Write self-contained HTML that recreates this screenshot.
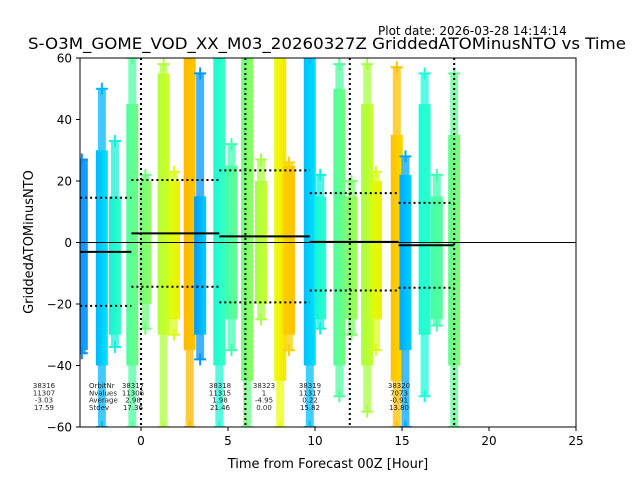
<!DOCTYPE html>
<html><head><meta charset="utf-8"><style>
body{margin:0;background:#fff;width:640px;height:480px;overflow:hidden;font-family:"Liberation Sans","DejaVu Sans",sans-serif}
svg text{font-family:"DejaVu Sans","Liberation Sans",sans-serif}
</style></head><body>
<svg id="chart" width="640" height="480" xmlns="http://www.w3.org/2000/svg">
<text x="378" y="35" font-size="12">Plot date: 2026-03-28 14:14:14</text>
<text x="327" y="49" font-size="16" text-anchor="middle" textLength="598" lengthAdjust="spacingAndGlyphs">S-O3M_GOME_VOD_XX_M03_20260327Z GriddedATOMinusNTO vs Time</text>
<defs><clipPath id="pc"><rect x="80" y="58" width="496" height="369"/></clipPath></defs>
<g id="marks" clip-path="url(#pc)"></g>
<g id="lines" clip-path="url(#pc)"></g>
<rect x="80" y="58" width="496" height="369" fill="none" stroke="#000" stroke-width="1"/>
<g id="axes"></g>
<g id="notes"></g>
<text x="328" y="468" font-size="13" text-anchor="middle">Time from Forecast 00Z [Hour]</text>
<text transform="translate(33,242) rotate(-90)" font-size="13" text-anchor="middle">GriddedATOMinusNTO</text>
</svg>
<script>
// column data (hours, values)
const colHours=[-3.4,-2.25,-1.5,-0.5,0.25,1.3,1.9,2.8,3.4,4.5,5.2,6.1,6.9,8.0,8.5,9.7,10.3,11.4,12.1,13.0,13.5,14.7,15.2,16.3,17.0,18.0];
const denseTop=[27,30,15,45,20,55,20,60,15,60,25,60,20,60,25,60,15,50,15,45,20,35,22,45,15,35];
const denseBot=[-35,-40,-30,-40,-20,-30,-25,-35,-30,-40,-25,-45,-20,-45,-30,-40,-25,-40,-25,-40,-25,-45,-35,-30,-25,-40];
const extTop=[27,50,33,60,22,58,23,60,55,60,32,60,27,60,26,60,22,58,20,58,23,57,28,55,22,55];
const extBot=[-36,-60,-34,-60,-28,-60,-30,-60,-38,-60,-35,-60,-25,-60,-35,-60,-28,-50,-30,-55,-35,-60,-60,-50,-27,-60];
const colColors=[["#0a8cff","#1aa0ff"],["#00b8ff","#00e4ff"],["#18f0d8","#30ffc8"],["#50ffa0","#70ff80"],["#70ff80","#90ff60"],["#b0ff40","#d0ff20"],["#d8ff18","#f0f000"],["#ffb800","#ffc800"],["#0098ff","#00d0ff"],["#20f8d8","#38ffc0"],["#40ffb0","#60ff90"],["#70ff80","#90ff60"],["#a8ff48","#c8ff30"],["#e8ff10","#ffe000"],["#ffd000","#ffc000"],["#00c0ff","#00e0ff"],["#10f0e0","#30ffc8"],["#50ffa0","#70ff80"],["#80ff70","#a0ff50"],["#a8ff48","#c8ff28"],["#d8ff18","#f0f000"],["#ffc000","#ffd800"],["#00a8ff","#00d0ff"],["#18ffd8","#30ffc8"],["#40ffb0","#58ff98"],["#60ff90","#80ff70"]];
// orbit statistics
const orbitNr=["38316","38317","38318","38323","38319","38320"];
const nValues=["11307","11306","11315","1","11317","7073"];
const avgVals=[-3.03,2.98,1.98,-4.95,0.22,-0.91];
const stdVals=[17.59,17.36,21.46,0.00,15.82,13.80];
const segStart=[-3.5,-0.55,4.5,null,9.7,14.8];
const segEnd=[-0.55,4.5,9.7,null,14.8,18.0];
const noteX=[44,133,220,264,310,399];
const xTicks=[0,5,10,15,20,25];
const yTicks=[60,40,20,0,-20,-40,-60];
const dayLines=[0,6,12,18];

const X=h=>141+h*17.4;
const Y=v=>242.5-v*3.075;
const NS="http://www.w3.org/2000/svg";
function mk(t,a,p){const e=document.createElementNS(NS,t);for(const k in a)e.setAttribute(k,a[k]);p.appendChild(e);return e;}
const svg=document.getElementById('chart');
const defs=svg.querySelector('defs');
const marks=document.getElementById('marks');
colHours.forEach((h,i)=>{
  const g=mk('linearGradient',{id:'g'+i,x1:0,x2:1,y1:0,y2:0},defs);
  mk('stop',{offset:0,'stop-color':colColors[i][0]},g);
  mk('stop',{offset:1,'stop-color':colColors[i][1]},g);
  const cx=X(h);
  const ext=mk('rect',{x:cx-4,y:Y(extTop[i]),width:8,height:Y(extBot[i])-Y(extTop[i]),fill:colColors[i][0],opacity:0.75},marks);
  
  
  const r=mk('rect',{x:cx-6,y:Y(denseTop[i]),width:12,height:Y(denseBot[i])-Y(denseTop[i]),fill:'url(#g'+i+')'},marks);
  
  
  [extTop[i],extBot[i]].forEach(v=>{
    const p=mk('path',{d:`M${cx-6},${Y(v)}h12M${cx},${Y(v)-6}v12`,stroke:colColors[i][0],'stroke-width':2},marks);
    
    
  });
});
const lines=document.getElementById('lines');
const z=mk('line',{x1:80,x2:576,y1:Y(0),y2:Y(0),stroke:'#000','stroke-width':1},lines);


dayLines.forEach(d=>{
  const l=mk('line',{x1:X(d),x2:X(d),y1:58,y2:427,stroke:'#000','stroke-width':2,'stroke-dasharray':'2,3'},lines);
  
  
});
avgVals.forEach((a,i)=>{
  if(segStart[i]===null)return;
  const x1=X(segStart[i]),x2=X(segEnd[i]);
  const m=mk('line',{x1,x2,y1:Y(a),y2:Y(a),stroke:'#000','stroke-width':2},lines);
  
  
  [a+stdVals[i],a-stdVals[i]].forEach(v=>{
    const s=mk('line',{x1,x2,y1:Y(v),y2:Y(v),stroke:'#000','stroke-width':2,'stroke-dasharray':'2,3'},lines);
    
    
  });
});
const axes=document.getElementById('axes');
xTicks.forEach(t=>{
  mk('line',{x1:X(t),x2:X(t),y1:427,y2:431,stroke:'#000'},axes);
  const tx=mk('text',{x:X(t),y:445,'font-size':12,'text-anchor':'middle'},axes);
  tx.textContent=t;
  
  
});
yTicks.forEach(t=>{
  mk('line',{x1:76,x2:80,y1:Y(t),y2:Y(t),stroke:'#000'},axes);
  const tx=mk('text',{x:72,y:Y(t)+4.5,'font-size':12,'text-anchor':'end'},axes);
  tx.textContent=t===0?'0':(t<0?'\u2212'+(-t):t);
  
  
});
const notes=document.getElementById('notes');
const lbl=mk('text',{x:89,y:388,'font-size':7,fill:'#222'},notes);


['OrbitNr','Nvalues','Average','Stdev'].forEach((s,k)=>{const t=mk('tspan',{x:89,y:388+k*7.3},lbl);t.textContent=s;});
orbitNr.forEach((o,i)=>{
  const t=mk('text',{x:noteX[i],y:388,'font-size':7,fill:'#222','text-anchor':'middle'},notes);
  
  
  [o,nValues[i],avgVals[i].toFixed(2),stdVals[i].toFixed(2)].forEach((s,k)=>{const ts=mk('tspan',{x:noteX[i],y:388+k*7.3},t);ts.textContent=s;});
});
</script>
</body></html>
